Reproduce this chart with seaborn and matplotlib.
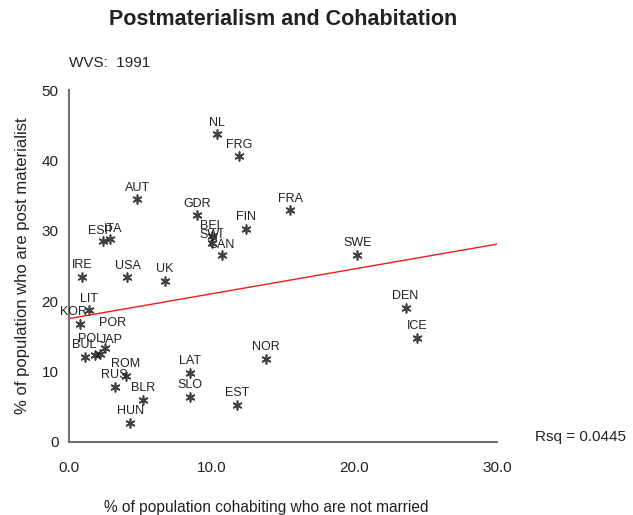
"""
Postmaterialism vs cohabitation scatter (WVS 1991), SPSS-style chart.
"""

import matplotlib
matplotlib.use("Agg")
import matplotlib.pyplot as plt
import numpy as np
import pandas as pd
import seaborn as sns

# --- Data ---
countries = [
    "NL", "FRG", "AUT", "GDR", "FRA", "FIN", "BEL", "SWI", "CAN", "ESP", "ITA",
    "IRE", "USA", "UK", "SWE", "DEN", "ICE", "LIT", "KOR", "POR", "POL", "JAP",
    "BUL", "ROM", "RUS", "BLR", "HUN", "LAT", "SLO", "EST", "NOR",
]
cohabiting = [
    10.4, 11.9, 4.8, 9.0, 15.5, 12.4, 10.0, 10.0, 10.7, 2.4, 2.9,
    0.9, 4.1, 6.7, 20.2, 23.6, 24.4, 1.4, 0.8, 2.2, 1.8, 2.5,
    1.1, 4.0, 3.2, 5.2, 4.3, 8.5, 8.5, 11.8, 13.8,
]
postmaterialist = [
    43.7, 40.6, 34.5, 32.2, 32.9, 30.3, 29.2, 28.3, 26.6, 28.6, 28.8,
    23.5, 23.4, 22.9, 26.6, 19.1, 14.8, 18.7, 16.8, 12.5, 12.4, 13.4,
    12.1, 9.4, 7.8, 6.0, 2.7, 9.8, 6.4, 5.3, 11.8,
]
x_ticks = [0, 10, 20, 30]
y_ticks = [0, 10, 20, 30, 40, 50]
rsq_text = "Rsq = 0.0445"

# label offsets in points (most sit just above the marker)
DEFAULT_OFFSET = (0, 4)
LABEL_OFFSETS = {
    "KOR": (-5, 4),
    "POR": (9, 18),
    "POL": (-3, 7),
    "JAP": (5, 1),
    "ESP": (-2, 3),
    "ITA": (2, 3),
    "BEL": (0, 3),
    "SWI": (0, 1),
    "CAN": (0, 3),
}

df = pd.DataFrame({"country": countries, "cohab": cohabiting, "postmat": postmaterialist})

sns.set_style("white")
plt.rcParams["font.family"] = ["Liberation Sans", "DejaVu Sans"]

fig = plt.figure(figsize=(6.33, 5.15), dpi=100)
ax = fig.add_axes([0.109, 0.142, 0.676, 0.683])
# limits first so the fitted line spans the full x range
ax.set_xlim(0, 30)
ax.set_ylim(0, 50)

sns.regplot(
    data=df, x="cohab", y="postmat", ax=ax, ci=None, truncate=False,
    marker=(6, 2, 0),
    scatter_kws={"color": "#111111", "s": 40, "linewidths": 1.2},
    line_kws={"color": "#ee1c1c", "linewidth": 1.0},
)

for _, row in df.iterrows():
    dx, dy = LABEL_OFFSETS.get(row["country"], DEFAULT_OFFSET)
    ax.annotate(
        row["country"], (row["cohab"], row["postmat"]),
        xytext=(dx, dy), textcoords="offset points",
        ha="center", va="bottom", fontsize=9, color="#222222",
    )

ax.set_xlim(0, 30)
ax.set_ylim(0, 50)
ax.set_xticks(x_ticks)
ax.set_xticklabels([f"{t:.1f}" for t in x_ticks])
ax.set_yticks(y_ticks)
ax.set_xlabel("")
ax.set_ylabel("% of population who are post materialist", fontsize=12, color="#222222", labelpad=8)

for side in ["top", "right"]:
    ax.spines[side].set_visible(False)
for side in ["left", "bottom"]:
    ax.spines[side].set_color("#707070")
    ax.spines[side].set_linewidth(1.5)
ax.tick_params(axis="both", direction="out", length=4, width=1.2, color="#707070",
               labelsize=11, labelcolor="#222222")
ax.tick_params(axis="x", pad=10)

fig.text(0.448, 0.963, "Postmaterialism and Cohabitation", ha="center", va="center",
         fontsize=15.5, fontweight="bold", color="#222222")
fig.text(0.109, 0.877, "WVS:  1991", ha="left", va="center", fontsize=11, color="#222222")
fig.text(0.845, 0.151, rsq_text, ha="left", va="center", fontsize=11, color="#222222")
fig.text(0.42, 0.015, "% of population cohabiting who are not married", ha="center",
         va="center", fontsize=11.2, color="#222222")

fig.savefig("out.png", dpi=100)
